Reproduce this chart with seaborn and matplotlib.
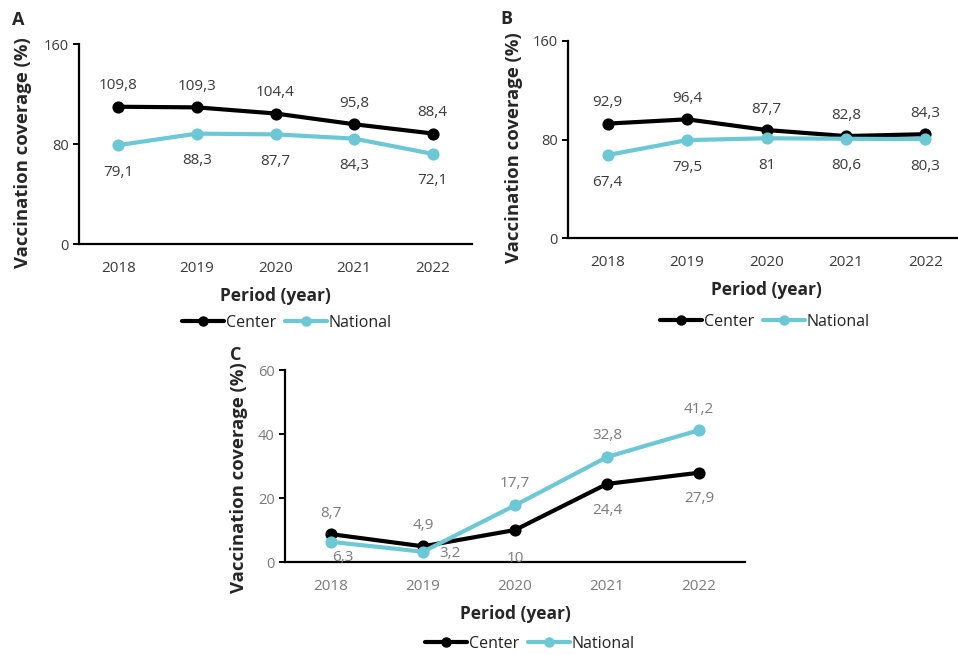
import pandas as pd
import seaborn as sns
import matplotlib.pyplot as plt
from matplotlib.lines import Line2D

# =============================================================================
# Data
# =============================================================================
years = ['2018', '2019', '2020', '2021', '2022']
series_names = ['Center', 'National']

a_center = [109.8, 109.3, 104.4, 95.8, 88.4]
a_national = [79.1, 88.3, 87.7, 84.3, 72.1]

b_center = [92.9, 96.4, 87.7, 82.8, 84.3]
b_national = [67.4, 79.5, 81, 80.6, 80.3]

c_center = [8.7, 4.9, 10, 24.4, 27.9]
c_national = [6.3, 3.2, 17.7, 32.8, 41.2]

a_yticks = [0, 80, 160]
b_yticks = [0, 80, 160]
c_yticks = [0, 20, 40, 60]


def build_df(center, national):
    dfs = []
    for vals, name in zip([center, national], series_names):
        dfs.append(pd.DataFrame({'Year': years, 'Coverage': vals, 'Series': name}))
    return pd.concat(dfs, ignore_index=True)


# =============================================================================
# Plotting
# =============================================================================
sns.set_style('white')
plt.rcParams['font.family'] = ['Open Sans', 'DejaVu Sans']

palette = {'Center': '#000000', 'National': '#6cc8d4'}
W, H = 958, 655
fig = plt.figure(figsize=(W / 100, H / 100), dpi=100)


def px_axes(x0, y_top, x1, y_bot):
    return fig.add_axes([x0 / W, 1 - y_bot / H, (x1 - x0) / W, (y_bot - y_top) / H])


# label offsets in pixels (dx, dy; dy up positive)
UP, DN = (0, 21), (0, -27)
panels = [
    dict(letter='A', box=(79, 44, 472, 244), data=(a_center, a_national), yticks=a_yticks,
         offs=([UP] * 5, [DN] * 5), tcol='#3a3a3a', lpos=(12, 20),
         ylab=(-0.12, 0.455), leg=(287, 323)),
    dict(letter='B', box=(568, 41, 965, 238), data=(b_center, b_national), yticks=b_yticks,
         offs=([UP] * 5, [DN] * 5), tcol='#3a3a3a', lpos=(500, 19),
         ylab=(-0.113, 0.46), leg=(765, 322)),
    dict(letter='C', box=(285, 370, 745, 562), data=(c_center, c_national), yticks=c_yticks,
         offs=([UP, UP, (0, -28), (0, -27), (0, -26)],
               [(12, -16), (27, -2), (0, 22), (0, 22), (0, 21)]),
         tcol='#7a7a7a', lpos=(230, 355), ylab=(-0.08, 0.44), leg=(530, 644)),
]

for p in panels:
    ax = px_axes(*p['box'])
    center, national = p['data']
    yticks = p['yticks']
    tcol = p['tcol']
    df = build_df(center, national)
    sns.pointplot(
        data=df, x='Year', y='Coverage', hue='Series',
        order=years, hue_order=series_names, palette=palette,
        markers='o', markersize=6.5, linewidth=3,
        legend=False, ax=ax,
    )
    for line in ax.lines:
        line.set_clip_on(False)
    ax.set_xlim(-0.5, 4.5)
    ax.set_ylim(yticks[0], yticks[-1])
    ax.set_yticks(yticks)
    sns.despine(ax=ax)
    for s in ['left', 'bottom']:
        ax.spines[s].set_color('black')
        ax.spines[s].set_linewidth(1.6)
    ax.set_xticks([i + 0.5 for i in range(-1, 5)], minor=True)
    ax.tick_params(axis='x', which='major', length=0, pad=12, labelsize=11, labelcolor=tcol)
    ax.tick_params(axis='x', which='minor', length=4, width=1.4, direction='out', color='black')
    ax.tick_params(axis='y', length=4, width=1.4, direction='out', color='black',
                   labelsize=10.5, labelcolor=tcol, left=True)
    ax.set_ylabel('Vaccination coverage (%)', fontsize=13.3, fontweight='bold')
    ax.yaxis.set_label_coords(*p['ylab'])
    ax.set_xlabel('Period (year)', fontsize=12.5, fontweight='bold', labelpad=8)
    ax.grid(False)

    # data labels
    for vals, offs in zip([center, national], p['offs']):
        for i, (v, (dx, dy)) in enumerate(zip(vals, offs)):
            txt = f'{v:g}'.replace('.', ',')
            ax.annotate(txt, (i, v), xytext=(dx * 0.72, dy * 0.72), textcoords='offset points',
                        ha='center', va='center', fontsize=11, color=tcol,
                        annotation_clip=False)

    handles = [Line2D([0], [0], color=palette[n], lw=3, marker='o', markersize=6.5)
               for n in series_names]
    cx, cy = p['leg']
    ax.legend(handles, series_names, loc='center', bbox_to_anchor=(cx / W, 1 - cy / H),
              bbox_transform=fig.transFigure,
              ncol=2, frameon=False, fontsize=11.5, handlelength=2.6,
              handletextpad=0.1, columnspacing=0.6, labelcolor='#222222')

    lx, ly = p['lpos']
    fig.text(lx / W, 1 - ly / H, p['letter'], fontsize=13, fontweight='bold',
             ha='left', va='center')

fig.savefig('out.png', dpi=100)
